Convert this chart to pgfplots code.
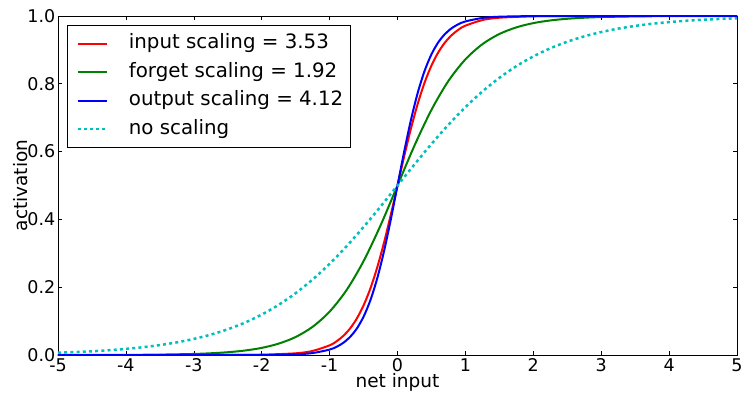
\documentclass[border=0pt]{standalone}
\usepackage{fontspec}
\setmainfont{DejaVu Sans}
\usepackage{pgfplots}
\pgfplotsset{compat=1.18}
\definecolor{mplgreen}{rgb}{0,0.5,0}
\definecolor{mplcyan}{rgb}{0,0.75,0.75}
\begin{document}
\begin{tikzpicture}
\begin{axis}[
  scale only axis,
  width=679pt, height=339pt,
  at={(0,0)}, anchor=south west,
  xmin=-5, xmax=5, ymin=0, ymax=1,
  xtick={-5,-4,-3,-2,-1,0,1,2,3,4,5},
  ytick={0,0.2,0.4,0.6,0.8,1.0},
  /pgf/number format/assume math mode=true,
  yticklabel style={/pgf/number format/fixed, /pgf/number format/fixed zerofill, /pgf/number format/precision=1},
  tick align=inside,
  major tick length=4pt,
  tick style={black, line width=0.6pt},
  axis line style={black, line width=0.8pt},
  ticklabel style={font=\fontsize{17.5}{20}\selectfont},
  xticklabel style={inner sep=0pt, yshift=-3.5pt},
  yticklabel style={inner sep=0pt, xshift=-2.5pt},
  xlabel={net input},
  ylabel={activation},
  label style={font=\fontsize{18.5}{22}\selectfont},
  xlabel style={at={(axis description cs:0.5,-0.0973)}, anchor=base},
  ylabel style={at={(axis description cs:-0.0455,0.5)}, anchor=base},
  legend image code/.code={\path (0pt,0pt); \draw[#1] (2pt,0pt) -- (31pt,0pt);},
  legend cell align=left,
  legend style={
    at={(axis description cs:0.01325,0.97345)}, anchor=north west,
    draw=black, line width=0.8pt,
    font=\fontsize{19.8}{22}\selectfont,
    inner xsep=7pt, inner ysep=9.2pt,
    row sep=10.5pt, column sep=21pt,
    nodes={inner sep=0pt, text height=14pt, text depth=4pt},
  },
]
\addplot[red, line width=2pt, smooth] coordinates {
(-5,0) (-3,0.00002) (-2.5,0.00015) (-2,0.00086) (-1.5,0.0050) (-1.25,0.0120)
(-1,0.0285) (-0.9,0.0400) (-0.8,0.0561) (-0.7,0.0779) (-0.6,0.1074) (-0.5,0.1462)
(-0.4,0.1959) (-0.3,0.2575) (-0.2,0.3305) (-0.1,0.4127) (0,0.5) (0.1,0.5873)
(0.2,0.6695) (0.3,0.7425) (0.4,0.8041) (0.5,0.8538) (0.6,0.8926) (0.7,0.9221)
(0.8,0.9439) (0.9,0.9600) (1,0.9715) (1.25,0.9880) (1.5,0.9950) (2,0.99914)
(2.5,0.99985) (3,0.99998) (5,1)
};
\addlegendentry{input scaling = 3.53}
\addplot[mplgreen, line width=2pt, smooth] coordinates {
(-5,0.0001) (-4,0.0005) (-3.5,0.0012) (-3,0.0031) (-2.75,0.0051) (-2.5,0.0082)
(-2.25,0.0131) (-2,0.0210) (-1.75,0.0336) (-1.5,0.0531) (-1.25,0.0832) (-1,0.1279)
(-0.75,0.1915) (-0.5,0.2769) (-0.25,0.3822) (0,0.5) (0.25,0.6178) (0.5,0.7231)
(0.75,0.8085) (1,0.8721) (1.25,0.9168) (1.5,0.9469) (1.75,0.9664) (2,0.9790)
(2.25,0.9869) (2.5,0.9918) (2.75,0.9949) (3,0.9969) (3.5,0.9988) (4,0.9995) (5,0.9999)
};
\addlegendentry{forget scaling = 1.92}
\addplot[blue, line width=2pt, smooth] coordinates {
(-5,0) (-2.5,0.00003) (-2,0.00026) (-1.5,0.0021) (-1.25,0.0058) (-1,0.0160)
(-0.9,0.0239) (-0.8,0.0357) (-0.7,0.0530) (-0.6,0.0778) (-0.5,0.1130) (-0.4,0.1613)
(-0.3,0.2251) (-0.2,0.3049) (-0.1,0.3984) (0,0.5) (0.1,0.6016) (0.2,0.6951)
(0.3,0.7749) (0.4,0.8387) (0.5,0.8870) (0.6,0.9222) (0.7,0.9470) (0.8,0.9643)
(0.9,0.9761) (1,0.9840) (1.25,0.9942) (1.5,0.9979) (2,0.99974) (2.5,0.99997) (5,1)
};
\addlegendentry{output scaling = 4.12}
\addplot[mplcyan, line width=2.5pt, dash pattern=on 3pt off 3.2pt, smooth] coordinates {
(-5,0.0067) (-4.75,0.0086) (-4.5,0.0110) (-4.25,0.0141) (-4,0.0180) (-3.75,0.0230)
(-3.5,0.0293) (-3.25,0.0373) (-3,0.0474) (-2.75,0.0601) (-2.5,0.0759) (-2.25,0.0953)
(-2,0.1192) (-1.75,0.1480) (-1.5,0.1824) (-1.25,0.2227) (-1,0.2689) (-0.75,0.3208)
(-0.5,0.3775) (-0.25,0.4378) (0,0.5) (0.25,0.5622) (0.5,0.6225) (0.75,0.6792)
(1,0.7311) (1.25,0.7773) (1.5,0.8176) (1.75,0.8520) (2,0.8808) (2.25,0.9047)
(2.5,0.9241) (2.75,0.9399) (3,0.9526) (3.25,0.9627) (3.5,0.9707) (3.75,0.9770)
(4,0.9820) (4.25,0.9859) (4.5,0.9890) (4.75,0.9914) (5,0.9933)
};
\addlegendentry{no scaling}
\end{axis}
\pgfresetboundingbox
\path[use as bounding box] (-58pt,-39pt) rectangle (686pt,355pt);
\end{tikzpicture}
\end{document}
